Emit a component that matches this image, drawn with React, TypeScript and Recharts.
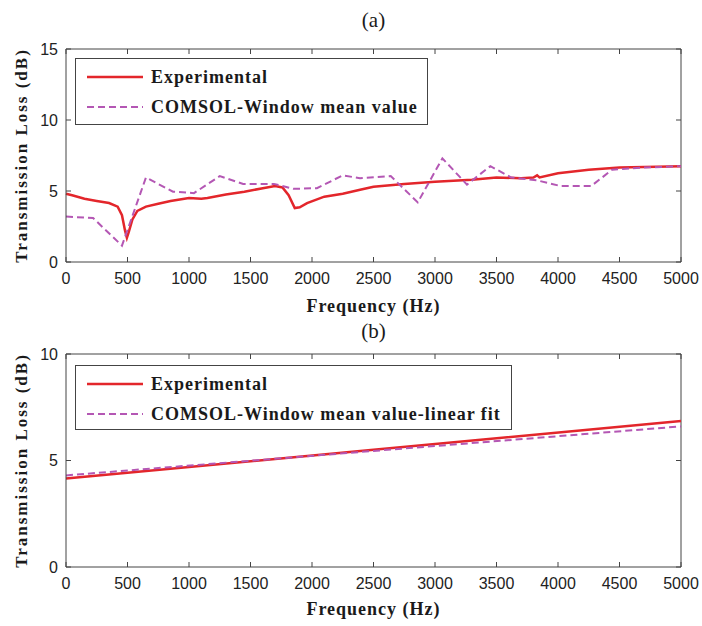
import { LineChart, Line, XAxis, YAxis, Legend, ReferenceLine } from 'recharts';

// x ticks shared by both panels
const freqTicks = [0, 500, 1000, 1500, 2000, 2500, 3000, 3500, 4000, 4500, 5000];
const yTicksA = [0, 5, 10, 15];
const yTicksB = [0, 5, 10];

// (a) experimental transmission loss
const expFreqA = [0, 50, 150, 250, 350, 420, 455, 480, 495, 510, 540, 580, 650, 750, 850, 1000, 1100, 1150, 1300, 1450, 1600, 1700, 1760, 1810, 1860, 1900, 1960, 2100, 2250, 2400, 2500, 2750, 3000, 3300, 3500, 3700, 3800, 3830, 3850, 4000, 4250, 4500, 5000];
const expTLA = [4.8, 4.7, 4.45, 4.3, 4.15, 3.9, 3.3, 2.2, 1.7, 2.1, 3.0, 3.6, 3.9, 4.1, 4.3, 4.5, 4.45, 4.5, 4.75, 4.95, 5.2, 5.35, 5.25, 4.7, 3.8, 3.85, 4.15, 4.6, 4.8, 5.1, 5.3, 5.5, 5.65, 5.8, 5.95, 5.9, 5.95, 6.1, 5.95, 6.25, 6.5, 6.65, 6.75];

// (a) COMSOL window mean value
const comsolFreqA = [0, 220, 455, 650, 870, 1040, 1250, 1440, 1690, 1850, 2040, 2250, 2390, 2640, 2860, 3060, 3260, 3450, 3620, 3830, 4020, 4270, 4440, 4700, 5000];
const comsolTLA = [3.2, 3.1, 1.15, 5.95, 4.95, 4.85, 6.05, 5.5, 5.5, 5.15, 5.2, 6.1, 5.9, 6.05, 4.2, 7.3, 5.45, 6.75, 5.95, 5.75, 5.35, 5.35, 6.5, 6.65, 6.75];

// (b) experimental vs linear fit
const expFreqB = [0, 2500, 5000];
const expTLB = [4.15, 5.5, 6.85];
const fitFreqB = [0, 2500, 5000];
const fitTLB = [4.3, 5.45, 6.6];

const RED = '#e3262b';
const MAGENTA = '#b457b4';
const AXIS = '#444';
const SERIF = '"Liberation Serif", "Times New Roman", serif';
const SANS = '"Liberation Sans", Arial, sans-serif';

// plot box (inside each chart)
const PLOT_LEFT = 66;
const PLOT_RIGHT = 681;
const PLOT_H = 213;
const TICK_LEN = 5;

const toPoints = (f: number[], v: number[]) => f.map((x, i) => ({ f: x, tl: v[i] }));

type LegendItem = { label: string; color: string; dashed: boolean };

function LegendBox({ items, width, height }: { items: LegendItem[]; width: number; height: number }) {
  return (
    <div
      style={{
        width,
        height,
        boxSizing: 'border-box',
        border: `1.5px solid ${AXIS}`,
        background: '#fff',
        position: 'relative',
      }}
    >
      {items.map((it, i) => (
        <div
          key={it.label}
          style={{
            position: 'absolute',
            left: 11,
            top: 3 + i * 30,
            height: 30,
            display: 'flex',
            alignItems: 'center',
            whiteSpace: 'nowrap',
          }}
        >
          <svg width={56} height={6} style={{ marginRight: 8 }}>
            <line
              x1={0}
              y1={3}
              x2={56}
              y2={3}
              stroke={it.color}
              strokeWidth={it.dashed ? 2 : 2.5}
              strokeDasharray={it.dashed ? '7 4' : undefined}
            />
          </svg>
          <span style={{ fontFamily: SERIF, fontWeight: 700, fontSize: 18, letterSpacing: 1, color: '#1a1a1a' }}>
            {it.label}
          </span>
        </div>
      ))}
    </div>
  );
}

interface PanelProps {
  height: number;
  top: number;
  yMax: number;
  yTicks: number[];
  series: { data: { f: number; tl: number }[]; item: LegendItem }[];
  legendWidth: number;
  legendHeight: number;
  legendTop: number;
  xLabelY: number;
}

function Panel({ height, top, yMax, yTicks, series, legendWidth, legendHeight, legendTop, xLabelY }: PanelProps) {
  const bottom = top + PLOT_H;
  const yCenter = top + PLOT_H / 2;

  // matlab style: inward ticks on both bottom and top edges
  const renderXTick = (props: any) => {
    const { x, payload } = props;
    return (
      <g>
        <line x1={x} y1={bottom} x2={x} y2={bottom - TICK_LEN} stroke={AXIS} />
        <line x1={x} y1={top} x2={x} y2={top + TICK_LEN} stroke={AXIS} />
        <text x={x} y={bottom + 11} dy="0.71em" textAnchor="middle" fontSize={16} fill="#222" fontFamily={SANS}>
          {payload.value}
        </text>
      </g>
    );
  };

  const renderYTick = (props: any) => {
    const { y, payload } = props;
    return (
      <g>
        <line x1={PLOT_LEFT} y1={y} x2={PLOT_LEFT + TICK_LEN} y2={y} stroke={AXIS} />
        <line x1={PLOT_RIGHT} y1={y} x2={PLOT_RIGHT - TICK_LEN} y2={y} stroke={AXIS} />
        <text x={PLOT_LEFT - 8} y={y} dy="0.355em" textAnchor="end" fontSize={16} fill="#222" fontFamily={SANS}>
          {payload.value}
        </text>
      </g>
    );
  };

  return (
    <LineChart width={702} height={height} margin={{ top, right: 702 - PLOT_RIGHT, bottom: 0, left: 0 }}>
      <XAxis
        type="number"
        dataKey="f"
        domain={[0, 5000]}
        ticks={freqTicks}
        interval={0}
        tickLine={false}
        height={height - top - PLOT_H}
        stroke={AXIS}
        tick={renderXTick}
        label={{
          content: () => (
            <text
              x={373.5}
              y={xLabelY}
              textAnchor="middle"
              fontFamily={SERIF}
              fontWeight={700}
              fontSize={18}
              letterSpacing={1}
              fill="#1a1a1a"
            >
              Frequency (Hz)
            </text>
          ),
        }}
      />
      <YAxis
        type="number"
        domain={[0, yMax]}
        ticks={yTicks}
        interval={0}
        tickLine={false}
        width={PLOT_LEFT}
        stroke={AXIS}
        tick={renderYTick}
        label={{
          content: () => (
            <text
              x={21}
              y={yCenter}
              transform={`rotate(-90, 21, ${yCenter})`}
              textAnchor="middle"
              dominantBaseline="central"
              fontFamily={SERIF}
              fontWeight={700}
              fontSize={17}
              letterSpacing={2}
              fill="#1a1a1a"
            >
              Transmission Loss (dB)
            </text>
          ),
        }}
      />
      {/* closing the box on top and right */}
      <ReferenceLine y={yMax} stroke={AXIS} ifOverflow="visible" />
      <ReferenceLine x={5000} stroke={AXIS} ifOverflow="visible" />
      <Legend
        layout="vertical"
        align="center"
        verticalAlign="middle"
        wrapperStyle={{ left: 75, top: legendTop, width: 'auto' }}
        content={() => <LegendBox items={series.map((s) => s.item)} width={legendWidth} height={legendHeight} />}
      />
      {series.map((s) => (
        <Line
          key={s.item.label}
          data={s.data}
          dataKey="tl"
          type="linear"
          stroke={s.item.color}
          strokeWidth={s.item.dashed ? 2 : 2.5}
          strokeDasharray={s.item.dashed ? '7 4' : undefined}
          dot={false}
          isAnimationActive={false}
        />
      ))}
    </LineChart>
  );
}

export default function App() {
  const seriesA = [
    { data: toPoints(expFreqA, expTLA), item: { label: 'Experimental', color: RED, dashed: false } },
    { data: toPoints(comsolFreqA, comsolTLA), item: { label: 'COMSOL-Window mean value', color: MAGENTA, dashed: true } },
  ];
  const seriesB = [
    { data: toPoints(expFreqB, expTLB), item: { label: 'Experimental', color: RED, dashed: false } },
    { data: toPoints(fitFreqB, fitTLB), item: { label: 'COMSOL-Window mean value-linear fit', color: MAGENTA, dashed: true } },
  ];
  const titleStyle: React.CSSProperties = {
    position: 'absolute',
    left: 0,
    width: 747,
    textAlign: 'center',
    fontFamily: SERIF,
    fontSize: 21,
    color: '#1a1a1a',
    zIndex: 2,
  };
  return (
    <div style={{ position: 'absolute', left: 0, top: 0, width: 702, height: 626, background: '#fff' }}>
      <div style={{ ...titleStyle, top: 8 }}>(a)</div>
      <div style={{ ...titleStyle, top: 319 }}>(b)</div>
      <div style={{ position: 'absolute', left: 0, top: 0 }}>
        <Panel
          height={320}
          top={49}
          yMax={15}
          yTicks={yTicksA}
          series={seriesA}
          legendWidth={353}
          legendHeight={67}
          legendTop={58}
          xLabelY={312}
        />
      </div>
      <div style={{ position: 'absolute', left: 0, top: 306 }}>
        <Panel
          height={320}
          top={48}
          yMax={10}
          yTicks={yTicksB}
          series={seriesB}
          legendWidth={437}
          legendHeight={65}
          legendTop={59}
          xLabelY={309}
        />
      </div>
    </div>
  );
}
